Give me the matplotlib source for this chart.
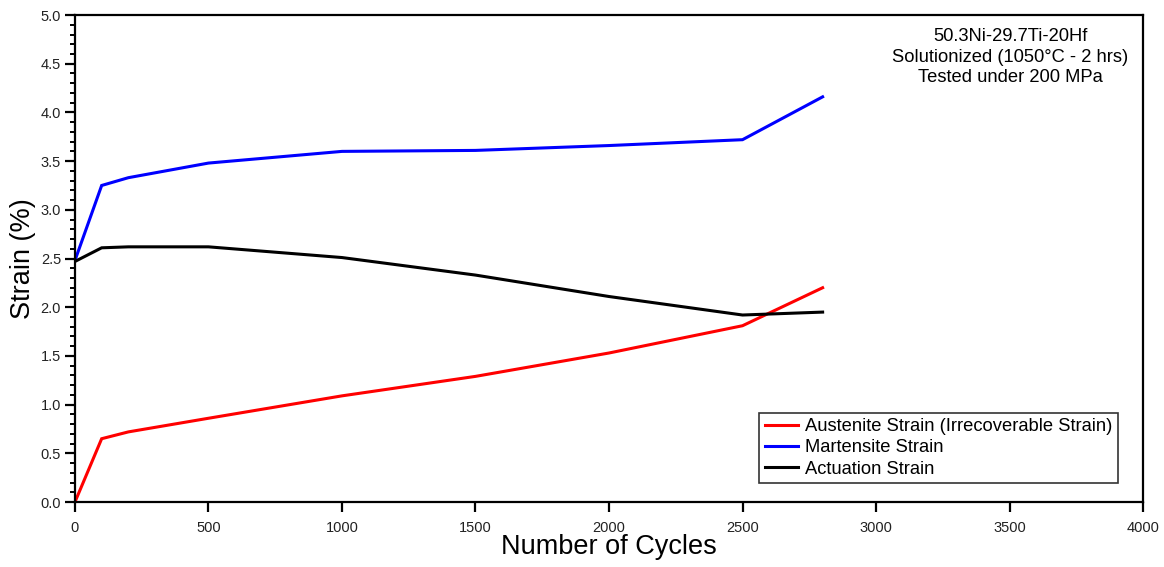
import numpy as np
import matplotlib.pyplot as plt
from matplotlib.ticker import MultipleLocator

plt.rcParams['font.family'] = ['Liberation Sans', 'DejaVu Sans']

# cycle counts and strain values (%)
cycles = [0, 100, 200, 500, 1000, 1500, 2000, 2500, 2800]
austenite = [0.0, 0.65, 0.72, 0.86, 1.09, 1.29, 1.53, 1.81, 2.20]
martensite = [2.48, 3.25, 3.33, 3.48, 3.60, 3.61, 3.66, 3.72, 4.16]
actuation = [2.47, 2.61, 2.62, 2.62, 2.51, 2.33, 2.11, 1.92, 1.95]

labels = ['Austenite Strain (Irrecoverable Strain)', 'Martensite Strain', 'Actuation Strain']
line_colors = ['#ff0000', '#0000ff', '#000000']

fig = plt.figure(figsize=(11.64, 5.67), dpi=100)
ax = fig.add_axes([0.0644, 0.1146, 0.9176, 0.8589])

for series, lab, col in zip([austenite, martensite, actuation], labels, line_colors):
    ax.plot(cycles, series, color=col, lw=2.2, label=lab, solid_joinstyle='miter')

ax.set_xlim(0, 4000)
ax.set_ylim(0, 5.0)
ax.xaxis.set_major_locator(MultipleLocator(500))
ax.yaxis.set_major_locator(MultipleLocator(0.5))
ax.yaxis.set_minor_locator(MultipleLocator(0.1))
ax.yaxis.set_major_formatter(plt.FormatStrFormatter('%.1f'))

for s in ax.spines.values():
    s.set_linewidth(1.6)

ax.tick_params(axis='both', which='major', direction='out', length=7, width=1.6,
               labelsize=10.5, labelcolor='#222222', pad=2)
ax.tick_params(axis='y', which='minor', direction='out', length=3.5, width=1.4)
ax.tick_params(axis='y', pad=3)
ax.tick_params(axis='x', pad=7)
ax.tick_params(top=False, right=False, which='both')

ax.set_xlabel('Number of Cycles', fontsize=19.5, labelpad=-1)
ax.set_ylabel('Strain (%)', fontsize=19.5, labelpad=3)

ax.text(0.876, 0.974, '50.3Ni-29.7Ti-20Hf\nSolutionized (1050°C - 2 hrs)\nTested under 200 MPa',
        transform=ax.transAxes, ha='center', va='top', fontsize=13.2, linespacing=1.3)

leg = ax.legend(loc='lower right', bbox_to_anchor=(0.9766, 0.039), fontsize=13.2,
                frameon=True, fancybox=False, edgecolor='black', handlelength=1.8,
                handletextpad=0.4, borderpad=0.3, labelspacing=0.22, borderaxespad=0,
                handleheight=0.6)
leg.get_frame().set_linewidth(1.2)

fig.savefig('out.png', dpi=100)
